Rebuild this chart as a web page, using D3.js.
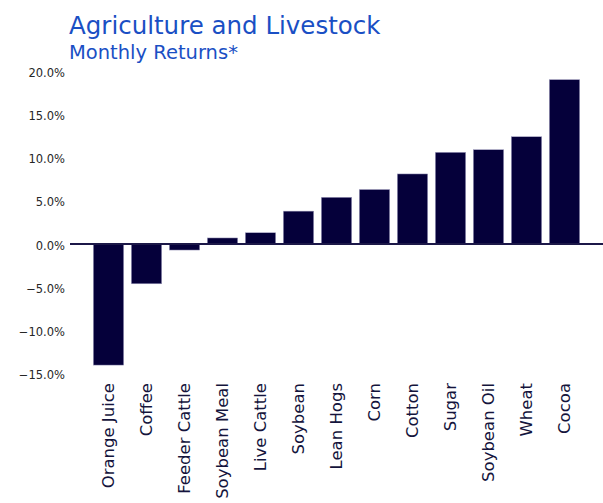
<!DOCTYPE html>
<html>
<head>
<meta charset="utf-8">
<script src="https://cdn.jsdelivr.net/npm/d3@7"></script>
<style>
  html, body { margin: 0; padding: 0; background: #ffffff; }
  svg { display: block; font-family: "DejaVu Sans", sans-serif; }
</style>
</head>
<body>
<svg id="chart" width="603" height="503"></svg>
<script>
// Monthly returns by commodity (percent)
const categories = ["Orange Juice", "Coffee", "Feeder Cattle", "Soybean Meal", "Live Cattle",
  "Soybean", "Lean Hogs", "Corn", "Cotton", "Sugar", "Soybean Oil", "Wheat", "Cocoa"];
const returns = [-14.0, -4.6, -0.7, 0.7, 1.3, 3.8, 5.4, 6.3, 8.1, 10.6, 10.9, 12.4, 19.0];
const yTicks = [-15, -10, -5, 0, 5, 10, 15, 20];

const titleText = "Agriculture and Livestock";
const subtitleText = "Monthly Returns*";

const W = 603, H = 503;
const barColor = "#05003a";
const textBlue = "#1a4fc4";

const svg = d3.select("#chart");

// Scales
const x = d3.scaleBand()
  .domain(categories)
  .range([85.7, 587.3])
  .paddingInner(0.2)
  .paddingOuter(0.2);

const y = d3.scaleLinear()
  .domain([-15, 20])
  .range([373.75, 71]);

// Titles
svg.append("text")
  .attr("x", 69).attr("y", 34)
  .attr("fill", textBlue)
  .style("font-size", "24.5px")
  .text(titleText);

svg.append("text")
  .attr("x", 69).attr("y", 59)
  .attr("fill", textBlue)
  .style("font-size", "19.5px")
  .text(subtitleText);

// Y axis: labels only
const yAxis = d3.axisLeft(y)
  .tickValues(yTicks)
  .tickSize(0)
  .tickPadding(0)
  .tickFormat(d => d3.format(".1f")(d).replace("-", "\u2212") + "%");

const yg = svg.append("g")
  .attr("transform", "translate(65,1.5)")
  .call(yAxis);
yg.select(".domain").remove();
yg.selectAll("text")
  .attr("fill", "#262626")
  .style("font-size", "11.5px")
  .style("font-family", "'DejaVu Sans', sans-serif");

// Bars
svg.append("g")
  .selectAll("rect")
  .data(categories)
  .join("rect")
  .attr("x", d => x(d))
  .attr("width", x.bandwidth())
  .attr("y", (d, i) => y(Math.max(0, returns[i])))
  .attr("height", (d, i) => Math.abs(y(returns[i]) - y(0)))
  .attr("fill", barColor)
  .attr("stroke", "#a9a6c6")
  .attr("stroke-width", 0.5);

// Zero line
svg.append("line")
  .attr("x1", 70).attr("x2", W)
  .attr("y1", y(0)).attr("y2", y(0))
  .attr("stroke", "#1c1848")
  .attr("stroke-width", 2);

// Category labels, rotated
const xAxis = d3.axisBottom(x).tickSize(0).tickPadding(0);
const xg = svg.append("g")
  .attr("transform", "translate(0,383)")
  .call(xAxis);
xg.select(".domain").remove();
xg.selectAll("text")
  .attr("transform", "rotate(-90)")
  .attr("text-anchor", "end")
  .attr("x", 0)
  .attr("y", 0)
  .attr("dy", "0.35em")
  .attr("fill", "#14143c")
  .style("font-size", "16.5px")
  .style("font-family", "'DejaVu Sans', sans-serif");
</script>
</body>
</html>
